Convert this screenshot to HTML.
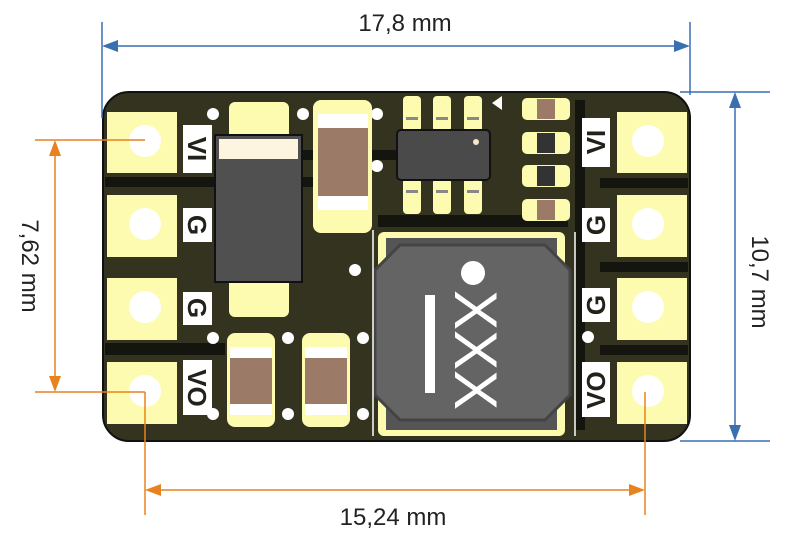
<!DOCTYPE html>
<html><head><style>body{margin:0;background:#fff}svg{display:block}</style></head><body>
<svg width="800" height="543" viewBox="0 0 800 543" xmlns="http://www.w3.org/2000/svg" font-family="Liberation Sans, sans-serif">
<rect x="103" y="92" width="587" height="349" rx="26" fill="#33331f" stroke="#111" stroke-width="2"/>
<g fill="#15150f">
<rect x="105" y="177" width="210" height="10"/>
<rect x="105" y="343" width="120" height="12"/>
<rect x="300" y="150" width="100" height="10"/>
<rect x="600" y="178" width="88" height="10"/>
<rect x="600" y="262" width="88" height="10"/>
<rect x="600" y="345" width="88" height="10"/>
<rect x="378" y="215" width="190" height="12"/>
<rect x="575" y="100" width="10" height="330"/>
</g>
<g fill="#fdfbb0">
<rect x="107" y="112" width="70" height="61"/><rect x="107" y="195" width="70" height="62"/>
<rect x="107" y="278" width="70" height="62"/><rect x="107" y="362" width="70" height="62"/>
<rect x="617" y="112" width="70" height="61"/><rect x="617" y="195" width="70" height="62"/>
<rect x="617" y="278" width="70" height="62"/><rect x="617" y="362" width="70" height="62"/>
</g>
<g fill="#fff">
<circle cx="145" cy="141" r="16"/><circle cx="145" cy="224" r="16"/><circle cx="145" cy="307" r="16"/><circle cx="145" cy="391" r="16"/>
<circle cx="648" cy="141" r="16"/><circle cx="648" cy="224" r="16"/><circle cx="648" cy="307" r="16"/><circle cx="648" cy="391" r="16"/>
</g>
<g fill="#fff">
<rect x="183" y="125" width="29" height="48"/><rect x="183" y="208" width="29" height="34"/>
<rect x="183" y="292" width="29" height="33"/><rect x="183" y="360" width="29" height="55"/>
<rect x="582" y="118" width="28" height="49"/><rect x="582" y="208" width="28" height="34"/>
<rect x="582" y="288" width="28" height="34"/><rect x="582" y="362" width="28" height="55"/>
</g>
<g font-weight="bold" font-size="26" fill="#22221a" text-anchor="middle">
<text transform="translate(188,149) rotate(90)">VI</text>
<text transform="translate(188,225) rotate(90)">G</text>
<text transform="translate(188,308) rotate(90)">G</text>
<text transform="translate(188,388) rotate(90)">VO</text>
<text transform="translate(605,142) rotate(-90)">VI</text>
<text transform="translate(605,225) rotate(-90)">G</text>
<text transform="translate(605,305) rotate(-90)">G</text>
<text transform="translate(605,390) rotate(-90)">VO</text>
</g>
<rect x="229" y="102" width="60" height="40" rx="6" fill="#fdfbb0"/>
<rect x="229" y="275" width="60" height="42" rx="6" fill="#fdfbb0"/>
<rect x="215" y="135" width="87" height="147" fill="#505050" stroke="#111" stroke-width="2"/>
<rect x="219" y="139" width="79" height="20" fill="#fdf5e0"/>
<g fill="#fff"><circle cx="213" cy="114" r="6"/><circle cx="303" cy="114" r="6"/><circle cx="377" cy="114" r="6"/><circle cx="377" cy="166" r="6"/><circle cx="355" cy="270" r="6"/>
<circle cx="213" cy="338" r="6"/><circle cx="288" cy="338" r="6"/><circle cx="363" cy="338" r="6"/><circle cx="213" cy="414" r="6"/><circle cx="288" cy="414" r="6"/><circle cx="363" cy="414" r="6"/><circle cx="588" cy="337" r="6"/></g>
<rect x="313" y="100" width="59" height="133" rx="8" fill="#fdfbb0"/>
<rect x="318" y="114" width="50" height="96" fill="#fff"/>
<rect x="318" y="128" width="50" height="68" fill="#9c7a68"/>
<rect x="227" y="333" width="48" height="94" rx="8" fill="#fdfbb0"/>
<rect x="230" y="347" width="42" height="68" fill="#fff"/>
<rect x="230" y="358" width="42" height="46" fill="#9c7a68"/>
<rect x="302" y="333" width="48" height="94" rx="8" fill="#fdfbb0"/>
<rect x="305" y="347" width="42" height="68" fill="#fff"/>
<rect x="305" y="358" width="42" height="46" fill="#9c7a68"/>
<g fill="#fdfbb0"><rect x="403" y="96" width="18" height="36" rx="4"/><rect x="433" y="96" width="18" height="36" rx="4"/><rect x="464" y="96" width="18" height="36" rx="4"/>
<rect x="403" y="178" width="18" height="36" rx="4"/><rect x="433" y="178" width="18" height="36" rx="4"/><rect x="464" y="178" width="18" height="36" rx="4"/></g>
<g fill="#888"><rect x="406" y="117" width="12" height="3"/><rect x="436" y="117" width="12" height="3"/><rect x="467" y="117" width="12" height="3"/>
<rect x="406" y="190" width="12" height="3"/><rect x="436" y="190" width="12" height="3"/><rect x="467" y="190" width="12" height="3"/></g>
<rect x="397" y="130" width="93" height="50" rx="4" fill="#4a4a4a" stroke="#111" stroke-width="2"/>
<circle cx="476" cy="142" r="3" fill="#f5e8c8"/>
<polygon points="492,103 502,96 502,110" fill="#fff"/>
<g fill="#fdfbb0"><rect x="522" y="98" width="48" height="22" rx="5"/><rect x="522" y="132" width="48" height="22" rx="5"/><rect x="522" y="165" width="48" height="22" rx="5"/><rect x="522" y="199" width="48" height="22" rx="5"/></g>
<rect x="537" y="99" width="18" height="20" fill="#9c7a68"/><rect x="537" y="133" width="18" height="20" fill="#333"/>
<rect x="537" y="166" width="18" height="20" fill="#333"/><rect x="537" y="200" width="18" height="20" fill="#9c7a68"/>
<rect x="378" y="232" width="187" height="204" rx="6" fill="#fdfbb0"/>
<rect x="386" y="238" width="171" height="192" fill="#555"/>
<polygon points="400,245 545,245 570,270 570,395 545,420 400,420 375,395 375,270" fill="#646464" stroke="#444" stroke-width="3"/>
<circle cx="473" cy="273" r="12" fill="#fff"/>
<rect x="425" y="295" width="10" height="98" fill="#fff"/>
<text transform="translate(455,350) rotate(90)" text-anchor="middle" font-size="60" fill="#fff">XXX</text>
<line x1="373" y1="230" x2="373" y2="436" stroke="#fff" stroke-width="1.5"/>
<line x1="575" y1="232" x2="575" y2="436" stroke="#fff" stroke-width="1.5"/>
<g stroke="#3a6fb0" stroke-width="1.5" fill="none">
<line x1="102" y1="22" x2="102" y2="118"/><line x1="690" y1="22" x2="690" y2="95"/>
<line x1="108" y1="46" x2="684" y2="46"/>
<line x1="680" y1="92" x2="770" y2="92"/><line x1="680" y1="441" x2="770" y2="441"/>
<line x1="735" y1="98" x2="735" y2="435"/>
</g>
<g fill="#3a6fb0"><polygon points="102,46 118,40 118,52"/><polygon points="690,46 674,40 674,52"/>
<polygon points="735,92 729,108 741,108"/><polygon points="735,441 729,425 741,425"/></g>
<g stroke="#e8821e" stroke-width="1.5" fill="none">
<line x1="35" y1="140" x2="145" y2="140"/><line x1="35" y1="392" x2="145" y2="392"/>
<line x1="55" y1="146" x2="55" y2="386"/>
<line x1="145" y1="392" x2="145" y2="515"/><line x1="645" y1="392" x2="645" y2="515"/>
<line x1="151" y1="490" x2="639" y2="490"/>
</g>
<g fill="#e8821e"><polygon points="55,140 49,156 61,156"/><polygon points="55,392 49,376 61,376"/>
<polygon points="145,490 161,484 161,496"/><polygon points="645,490 629,484 629,496"/></g>
<g font-size="24" fill="#222" text-anchor="middle">
<text x="405" y="31">17,8 mm</text>
<text x="393" y="525">15,24 mm</text>
<text transform="translate(752,282) rotate(90)">10,7 mm</text>
<text transform="translate(22,266) rotate(90)">7,62 mm</text>
</g>
</svg>
</body></html>
